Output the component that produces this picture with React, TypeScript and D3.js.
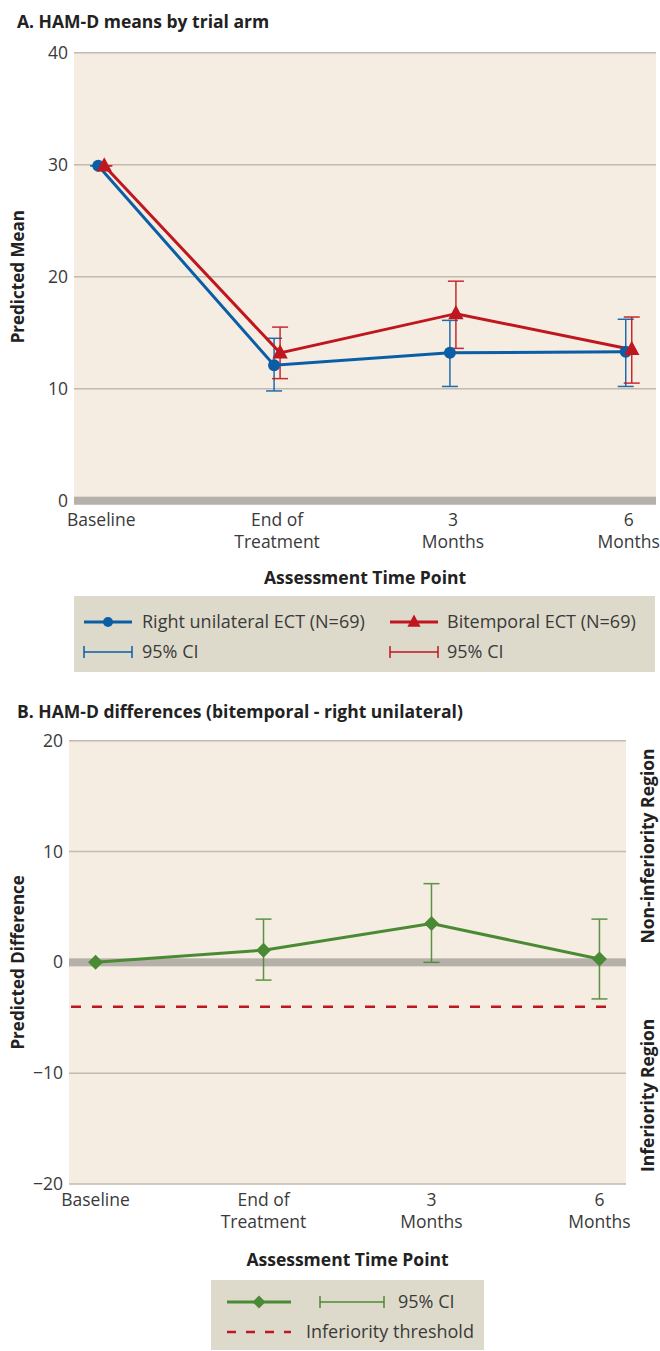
import React from 'react';
import * as d3 from 'd3';

const WIDTH = 660;
const HEIGHT = 1351;
const FONT = '"Open Sans", Lato, sans-serif';

// time points on the x axis (label lines)
const timePoints = ['Baseline', 'End of Treatment', '3 Months', '6 Months'];
const tickLines = [['Baseline'], ['End of', 'Treatment'], ['3', 'Months'], ['6', 'Months']];

// panel A: predicted HAM-D means with 95% CI
const rulMean = [29.9, 12.1, 13.2, 13.3];
const rulLow = [29.9, 9.8, 10.2, 10.2];
const rulHigh = [29.9, 14.5, 16.1, 16.2];
const btMean = [29.9, 13.2, 16.7, 13.5];
const btLow = [29.9, 10.9, 13.6, 10.5];
const btHigh = [29.9, 15.5, 19.6, 16.4];
const meanTicks = [0, 10, 20, 30, 40];

// panel B: bitemporal - right unilateral differences
const diffMean = [0, 1.1, 3.5, 0.3];
const diffLow = [0, -1.6, 0.0, -3.3];
const diffHigh = [0, 3.9, 7.1, 3.9];
const diffTicks = [-20, -10, 0, 10, 20];
const threshold = -4;

const BLUE = '#0b5ea6';
const RED = '#c0161f';
const GREEN = '#4b8a35';
const BG = '#f5ede1';
const LEGEND_BG = '#dedacb';
const GRID = '#c2bab0';
const ZERO = '#b6b0aa';
const TEXT = '#3a3a3a';
const SIZE = 17.5;
const LEG = 18;

const fmt = (v: number) => (v < 0 ? '\u2212' + Math.abs(v) : String(v));

const ErrorBar = ({ x, y1, y2, color }: any) => (
    <g stroke={color} strokeWidth={1.5} opacity={0.9}>
        <line x1={x} x2={x} y1={y1} y2={y2} />
        <line x1={x - 8} x2={x + 8} y1={y1} y2={y1} />
        <line x1={x - 8} x2={x + 8} y1={y2} y2={y2} />
    </g>
);

const triangle = (x: number, y: number, s: number) =>
    `M${x},${y - s * 0.62}L${x + s * 0.55},${y + s * 0.4}L${x - s * 0.55},${y + s * 0.4}Z`;

const diamond = (x: number, y: number, s: number) =>
    `M${x},${y - s}L${x + s},${y}L${x},${y + s}L${x - s},${y}Z`;

const XLabels = ({ x, y }: any) => (
    <g fontSize={SIZE} fill={TEXT} textAnchor="middle">
        {tickLines.map((lines, i) => (
            <text key={i} x={x(i)} y={y}>
                {lines.map((l, j) => (
                    <tspan key={j} x={x(i)} dy={j === 0 ? 0 : 22}>{l}</tspan>
                ))}
            </text>
        ))}
    </g>
);

const PanelA = () => {
    const left = 74, right = 656, top = 52.7, bottom = 500.7;
    const xScale = d3.scalePoint<number>()
        .domain(d3.range(timePoints.length))
        .range([left, right])
        .padding(0.155);
    const yScale = d3.scaleLinear().domain([0, 40]).range([bottom, top]);
    const xBlue = (i: number) => (xScale(i) as number) - 3;
    const xRed = (i: number) => (xScale(i) as number) + 3;

    const lineBlue = d3.line<number>().x((d, i) => xBlue(i)).y(d => yScale(d));
    const lineRed = d3.line<number>().x((d, i) => xRed(i)).y(d => yScale(d));

    return (
        <g>
            <text x={17} y={28} fontSize={SIZE} fontWeight="bold" fill="#222">A. HAM-D means by trial arm</text>
            <rect x={left} y={top} width={right - left} height={bottom - top + 4} fill={BG} />
            {meanTicks.filter(t => t !== 0).map(t => (
                <line key={t} x1={left} x2={right} y1={yScale(t)} y2={yScale(t)} stroke={GRID} strokeWidth={1.5} />
            ))}
            <rect x={left} y={yScale(0) - 4} width={right - left} height={8} fill={ZERO} />
            <g fontSize={SIZE} fill={TEXT} textAnchor="end">
                {meanTicks.map(t => (
                    <text key={t} x={68} y={yScale(t)} dy="0.35em">{fmt(t)}</text>
                ))}
            </g>
            <text transform={`translate(24,${(top + bottom) / 2}) rotate(-90)`} textAnchor="middle"
                fontSize={17} fontWeight="bold" fill="#222">Predicted Mean</text>

            {rulMean.map((d, i) => (
                <ErrorBar key={'b' + i} x={xBlue(i)} y1={yScale(rulHigh[i])} y2={yScale(rulLow[i])} color={BLUE} />
            ))}
            {btMean.map((d, i) => (
                <ErrorBar key={'r' + i} x={xRed(i)} y1={yScale(btHigh[i])} y2={yScale(btLow[i])} color={RED} />
            ))}
            <path d={lineBlue(rulMean) as string} fill="none" stroke={BLUE} strokeWidth={3} />
            <path d={lineRed(btMean) as string} fill="none" stroke={RED} strokeWidth={3} />
            {rulMean.map((d, i) => (
                <circle key={i} cx={xBlue(i)} cy={yScale(d)} r={6} fill={BLUE} />
            ))}
            {btMean.map((d, i) => (
                <path key={i} d={triangle(xRed(i), yScale(d), 14)} fill={RED} />
            ))}

            <XLabels x={(i: number) => xScale(i) as number} y={bottom + 25} />
            <text x={(left + right) / 2} y={584} textAnchor="middle" fontSize={SIZE} fontWeight="bold" fill="#222">
                Assessment Time Point
            </text>

            {/* legend */}
            <rect x={74} y={596} width={581} height={76} fill={LEGEND_BG} />
            <g fontSize={LEG} fill={TEXT}>
                <line x1={84} x2={132} y1={622} y2={622} stroke={BLUE} strokeWidth={3} />
                <circle cx={108} cy={622} r={5} fill={BLUE} />
                <text x={142} y={622} dy="0.35em">Right unilateral ECT (N=69)</text>
                <line x1={390} x2={438} y1={622} y2={622} stroke={RED} strokeWidth={3} />
                <path d={triangle(414, 622, 12)} fill={RED} />
                <text x={447} y={622} dy="0.35em">Bitemporal ECT (N=69)</text>

                <g stroke={BLUE} strokeWidth={1.5}>
                    <line x1={84} x2={132} y1={652} y2={652} />
                    <line x1={84} x2={84} y1={646} y2={658} />
                    <line x1={132} x2={132} y1={646} y2={658} />
                </g>
                <text x={142} y={652} dy="0.35em">95% CI</text>
                <g stroke={RED} strokeWidth={1.5}>
                    <line x1={390} x2={438} y1={652} y2={652} />
                    <line x1={390} x2={390} y1={646} y2={658} />
                    <line x1={438} x2={438} y1={646} y2={658} />
                </g>
                <text x={447} y={652} dy="0.35em">95% CI</text>
            </g>
        </g>
    );
};

const PanelB = () => {
    const left = 69, right = 626, top = 740.7, bottom = 1184;
    const xScale = d3.scalePoint<number>()
        .domain(d3.range(timePoints.length))
        .range([left, right])
        .padding(0.158);
    const yScale = d3.scaleLinear().domain([-20, 20]).range([bottom, top]);
    const xp = (i: number) => xScale(i) as number;
    const line = d3.line<number>().x((d, i) => xp(i)).y(d => yScale(d));

    return (
        <g>
            <text x={17} y={718} fontSize={SIZE} fontWeight="bold" fill="#222">
                B. HAM-D differences (bitemporal - right unilateral)
            </text>
            <rect x={left} y={top} width={right - left} height={bottom - top} fill={BG} />
            {diffTicks.filter(t => t !== 0).map(t => (
                <line key={t} x1={left} x2={right} y1={yScale(t)} y2={yScale(t)} stroke={GRID} strokeWidth={1.5} />
            ))}
            <rect x={left} y={yScale(0) - 4} width={right - left} height={8} fill={ZERO} />
            <line x1={left + 2} x2={right - 10} y1={yScale(threshold)} y2={yScale(threshold)}
                stroke={RED} strokeWidth={2.5} strokeDasharray="10,11" />
            <g fontSize={SIZE} fill={TEXT} textAnchor="end">
                {diffTicks.map(t => (
                    <text key={t} x={63} y={yScale(t)} dy="0.35em">{fmt(t)}</text>
                ))}
            </g>
            <text transform={`translate(24,${(top + bottom) / 2}) rotate(-90)`} textAnchor="middle"
                fontSize={17} fontWeight="bold" fill="#222">Predicted Difference</text>

            <g fontSize={SIZE} fontWeight="bold" fill="#222" textAnchor="middle">
                <text transform={`translate(654,${yScale(10.5)}) rotate(-90)`}>Non-inferiority Region</text>
                <text transform={`translate(654,${yScale(-12)}) rotate(-90)`}>Inferiority Region</text>
            </g>

            {diffMean.map((d, i) => diffHigh[i] !== diffLow[i] ? (
                <ErrorBar key={i} x={xp(i)} y1={yScale(diffHigh[i])} y2={yScale(diffLow[i])} color={GREEN} />
            ) : null)}
            <path d={line(diffMean) as string} fill="none" stroke={GREEN} strokeWidth={3} />
            {diffMean.map((d, i) => (
                <path key={i} d={diamond(xp(i), yScale(d), 7.5)} fill={GREEN} />
            ))}

            <XLabels x={xp} y={bottom + 22} />
            <text x={(left + right) / 2} y={1266} textAnchor="middle" fontSize={SIZE} fontWeight="bold" fill="#222">
                Assessment Time Point
            </text>

            {/* legend */}
            <rect x={211} y={1280} width={273} height={70} fill={LEGEND_BG} />
            <g fontSize={LEG} fill={TEXT}>
                <line x1={227} x2={291} y1={1302} y2={1302} stroke={GREEN} strokeWidth={3} />
                <path d={diamond(259, 1302, 6.5)} fill={GREEN} />
                <g stroke={GREEN} strokeWidth={1.5}>
                    <line x1={320} x2={384} y1={1302} y2={1302} />
                    <line x1={320} x2={320} y1={1296} y2={1308} />
                    <line x1={384} x2={384} y1={1296} y2={1308} />
                </g>
                <text x={398} y={1302} dy="0.35em">95% CI</text>
                <line x1={227} x2={291} y1={1332} y2={1332} stroke={RED} strokeWidth={2.5} strokeDasharray="9,10" />
                <text x={306} y={1332} dy="0.35em">Inferiority threshold</text>
            </g>
        </g>
    );
};

export default function App() {
    return (
        <svg width={WIDTH} height={HEIGHT} style={{ display: 'block', position: 'absolute', left: 0, top: 0 }}
            fontFamily={FONT}>
            <rect width={WIDTH} height={HEIGHT} fill="#fff" />
            <PanelA />
            <PanelB />
        </svg>
    );
}
